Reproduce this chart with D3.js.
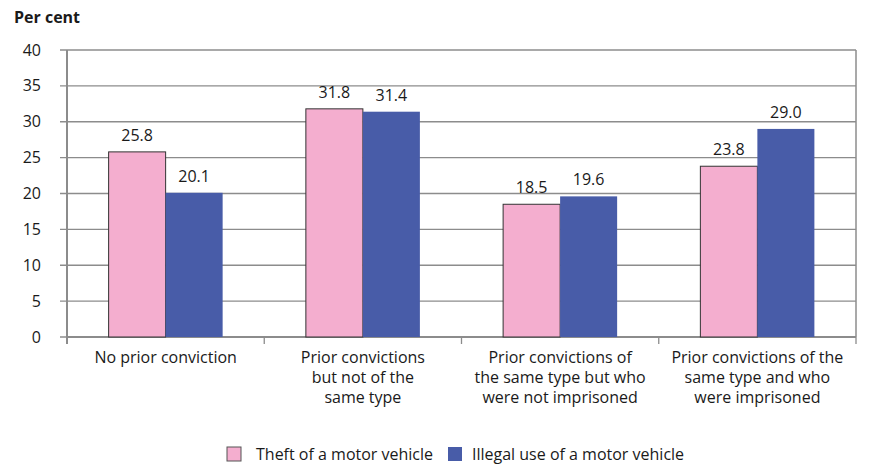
<!DOCTYPE html>
<html>
<head>
<meta charset="utf-8">
<script src="https://cdn.jsdelivr.net/npm/d3@7"></script>
<style>
  body { margin: 0; background: #fff; }
  text { font-family: "Open Sans", "Noto Sans", sans-serif; fill: #1a1a1a; }
</style>
</head>
<body>
<svg id="chart"></svg>
<script>
// data
const categories = [
    ["No prior conviction"],
    ["Prior convictions", "but not of the", "same type"],
    ["Prior convictions of", "the same type but who", "were not imprisoned"],
    ["Prior convictions of the", "same type and who", "were imprisoned"]
];
const seriesNames = ["Theft of a motor vehicle", "Illegal use of a motor vehicle"];
const theft = [25.8, 31.8, 18.5, 23.8];
const illegalUse = [20.1, 31.4, 19.6, 29.0];
const yTicks = [0, 5, 10, 15, 20, 25, 30, 35, 40];

const colors = ["#f4aecf", "#485ca8"];
const width = 878, height = 468;
const margin = {top: 50, right: 22, bottom: 131, left: 67};

const svg = d3.select("#chart")
    .attr("width", width)
    .attr("height", height);

const plotW = width - margin.left - margin.right;
const plotH = height - margin.top - margin.bottom;

const g = svg.append("g")
    .attr("transform", `translate(${margin.left}, ${margin.top})`);

const x0 = d3.scaleBand()
    .domain(d3.range(categories.length))
    .range([0, plotW])
    .paddingInner(0)
    .paddingOuter(0);

const x1 = d3.scaleBand()
    .domain([0, 1])
    .range([0, x0.bandwidth()])
    .paddingInner(0)
    .paddingOuter(0.73);

const y = d3.scaleLinear()
    .domain([0, 40])
    .range([plotH, 0]);

// gridlines + y ticks
g.selectAll(".grid")
    .data(yTicks)
    .enter()
    .append("line")
    .attr("x1", -7)
    .attr("x2", plotW)
    .attr("y1", d => y(d))
    .attr("y2", d => y(d))
    .attr("stroke", "#8c8c8c")
    .attr("stroke-width", 1.3);

g.selectAll(".ylab")
    .data(yTicks)
    .enter()
    .append("text")
    .attr("x", -26)
    .attr("y", d => y(d))
    .attr("dy", "0.35em")
    .attr("text-anchor", "end")
    .attr("font-size", "16px")
    .text(d => d);

// axis frame
g.append("line")
    .attr("x1", 0).attr("x2", 0)
    .attr("y1", 0).attr("y2", plotH + 7)
    .attr("stroke", "#8c8c8c").attr("stroke-width", 2);
g.append("line")
    .attr("x1", plotW).attr("x2", plotW)
    .attr("y1", 0).attr("y2", plotH)
    .attr("stroke", "#8c8c8c").attr("stroke-width", 1.5);
g.append("line")
    .attr("x1", 0).attr("x2", plotW)
    .attr("y1", plotH).attr("y2", plotH)
    .attr("stroke", "#8c8c8c").attr("stroke-width", 2);

// x ticks
g.selectAll(".xtick")
    .data(d3.range(categories.length + 1))
    .enter()
    .append("line")
    .attr("x1", d => d * x0.bandwidth())
    .attr("x2", d => d * x0.bandwidth())
    .attr("y1", plotH)
    .attr("y2", plotH + 7)
    .attr("stroke", "#8c8c8c")
    .attr("stroke-width", 1.3);

// bars
const groups = g.selectAll(".group")
    .data(categories.map((c, i) => [theft[i], illegalUse[i]]))
    .enter()
    .append("g")
    .attr("transform", (d, i) => `translate(${x0(i)}, 0)`);

groups.selectAll("rect")
    .data(d => d)
    .enter()
    .append("rect")
    .attr("x", (d, i) => x1(i))
    .attr("y", d => y(d))
    .attr("width", x1.bandwidth())
    .attr("height", d => plotH - y(d))
    .attr("fill", (d, i) => colors[i])
    .attr("stroke", (d, i) => i == 0 ? "#333" : "none")
    .attr("stroke-width", 1);

groups.selectAll(".val")
    .data(d => d)
    .enter()
    .append("text")
    .attr("x", (d, i) => x1(i) + x1.bandwidth() / 2)
    .attr("y", d => y(d) - 11)
    .attr("text-anchor", "middle")
    .attr("font-size", "16px")
    .text(d => d.toFixed(1));

// category labels
categories.forEach((lines, i) => {
    const t = g.append("text")
        .attr("x", x0(i) + x0.bandwidth() / 2)
        .attr("y", plotH + 26)
        .attr("text-anchor", "middle")
        .attr("font-size", "16px");
    lines.forEach((l, j) => {
        t.append("tspan")
            .attr("x", x0(i) + x0.bandwidth() / 2)
            .attr("dy", j == 0 ? 0 : 20)
            .text(l);
    });
});

// title
svg.append("text")
    .attr("x", 14)
    .attr("y", 23)
    .attr("font-size", "16px")
    .attr("font-weight", "bold")
    .text("Per cent");

// legend
const legendX = [227, 448];
const legendTextX = [256, 472];
seriesNames.forEach((s, i) => {
    svg.append("rect")
        .attr("x", legendX[i])
        .attr("y", 447)
        .attr("width", 14)
        .attr("height", 14)
        .attr("fill", colors[i])
        .attr("stroke", i == 0 ? "#555" : "none");
    svg.append("text")
        .attr("x", legendTextX[i])
        .attr("y", 460)
        .attr("font-size", "16px")
        .text(s);
});
</script>
</body>
</html>
